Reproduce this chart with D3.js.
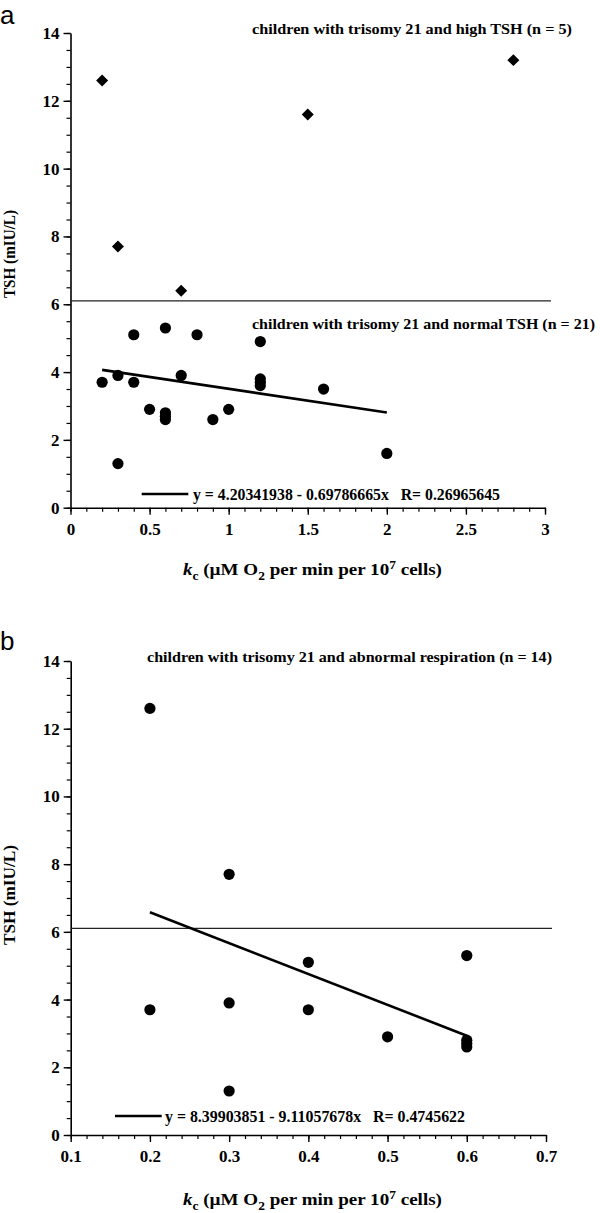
<!DOCTYPE html>
<html>
<head>
<meta charset="utf-8">
<script src="https://cdn.jsdelivr.net/npm/d3@7"></script>
<style>
  html, body { margin: 0; padding: 0; background: #fff; }
  svg { display: block; }
</style>
</head>
<body>
<svg id="chart" width="600" height="1213"></svg>
<script>
// ---------- DATA ----------
// Panel a: children with trisomy 21 and high TSH (diamonds)
const highTSH_x = [0.2, 0.3, 0.7, 1.5, 2.8];
const highTSH_y = [12.6, 7.7, 6.4, 11.6, 13.2];
// Panel a: children with trisomy 21 and normal TSH (circles)
const normalTSH_x = [0.2, 0.3, 0.3, 0.4, 0.4, 0.5, 0.6, 0.6, 0.6, 0.6, 0.7, 0.8, 0.9, 1.0, 1.2, 1.2, 1.2, 1.2, 1.6, 2.0];
const normalTSH_y = [3.7, 3.9, 1.3, 5.1, 3.7, 2.9, 5.3, 2.8, 2.7, 2.6, 3.9, 5.1, 2.6, 2.9, 4.9, 3.8, 3.7, 3.6, 3.5, 1.6];
// Panel b: children with trisomy 21 and abnormal respiration (circles)
const abnormal_x = [0.2, 0.2, 0.3, 0.3, 0.3, 0.4, 0.4, 0.5, 0.6, 0.6, 0.6, 0.6];
const abnormal_y = [12.6, 3.7, 7.7, 3.9, 1.3, 5.1, 3.7, 2.9, 5.3, 2.8, 2.7, 2.6];
// Regression lines: [intercept, slope], fitted x range
const fitA = [4.20341938, -0.69786665];
const fitA_range = [0.2, 2.0];
const fitB = [8.39903851, -9.11057678];
const fitB_range = [0.2, 0.6];
const thresholdTSH = 6.1;
// Axis ticks
const yTicks = [0, 2, 4, 6, 8, 10, 12, 14];
const yMinor = d3.range(0, 14.01, 0.5);
const xTicksA = [0, 0.5, 1, 1.5, 2, 2.5, 3];
const xTickLabelsA = ["0", "0.5", "1", "1.5", "2", "2.5", "3"];
const xMinorA = d3.range(0, 30.01, 1).map(d => d / 10);
const xTicksB = [0.1, 0.2, 0.3, 0.4, 0.5, 0.6, 0.7];
const xTickLabelsB = ["0.1", "0.2", "0.3", "0.4", "0.5", "0.6", "0.7"];
const xMinorB = d3.range(5, 35.01, 1).map(d => d / 50);
// Texts
const titleHigh = "children with trisomy 21 and high TSH (n = 5)";
const titleNormal = "children with trisomy 21 and normal TSH (n = 21)";
const titleAbn = "children with trisomy 21 and abnormal respiration (n = 14)";
const legendA = "y = 4.20341938 - 0.69786665x   R= 0.26965645";
const legendB = "y = 8.39903851 - 9.11057678x   R= 0.4745622";

// ---------- DRAW ----------
const svg = d3.select("#chart");
const serif = '"Liberation Serif", "Times New Roman", serif';

function styleLabels(s) {
  s.selectAll("text")
    .attr("font-family", serif).attr("font-weight", "bold")
    .attr("font-size", 17).attr("fill", "#000");
}

function drawPanel(o) {
  const g = svg.append("g");
  const x = d3.scaleLinear().domain(o.xDomain).range([o.left, o.right]);
  const y = d3.scaleLinear().domain([0, 14]).range([o.bottom, o.top]);

  // minor ticks
  g.append("g").attr("transform", `translate(${o.left},0)`)
    .call(d3.axisLeft(y).tickValues(yMinor).tickSize(4).tickFormat("").tickSizeOuter(0))
    .call(s => s.select(".domain").remove())
    .call(s => s.selectAll("line").attr("stroke-width", 1.2));
  g.append("g").attr("transform", `translate(0,${o.bottom})`)
    .call(d3.axisBottom(x).tickValues(o.xMinor).tickSize(4).tickFormat("").tickSizeOuter(0))
    .call(s => s.select(".domain").remove())
    .call(s => s.selectAll("line").attr("stroke-width", 1.2));

  // major axes
  g.append("g").attr("transform", `translate(${o.left},0)`)
    .call(d3.axisLeft(y).tickValues(yTicks).tickSize(7).tickPadding(4).tickSizeOuter(0).tickFormat(d3.format("d")))
    .call(s => s.select(".domain").attr("stroke-width", 1.6))
    .call(s => s.selectAll("line").attr("stroke-width", 1.4))
    .call(styleLabels);
  g.append("g").attr("transform", `translate(0,${o.bottom})`)
    .call(d3.axisBottom(x).tickValues(o.xTicks).tickSize(7).tickPadding(8).tickSizeOuter(0)
      .tickFormat((d, i) => o.xLabels[i]))
    .call(s => s.select(".domain").attr("stroke-width", 1.6))
    .call(s => s.selectAll("line").attr("stroke-width", 1.4))
    .call(styleLabels);

  // threshold line
  g.append("line")
    .attr("x1", x(o.xDomain[0])).attr("x2", o.right + 6)
    .attr("y1", y(thresholdTSH)).attr("y2", y(thresholdTSH))
    .attr("stroke", "#222").attr("stroke-width", 1.2);

  // regression line
  g.append("line")
    .attr("x1", x(o.fitRange[0])).attr("y1", y(o.fit[0] + o.fit[1] * o.fitRange[0]))
    .attr("x2", x(o.fitRange[1])).attr("y2", y(o.fit[0] + o.fit[1] * o.fitRange[1]))
    .attr("stroke", "#000").attr("stroke-width", 2.6);

  // circles
  g.selectAll("circle.pt").data(o.cx.map((d, i) => [d, o.cy[i]])).enter()
    .append("circle").attr("class", "pt")
    .attr("cx", d => x(d[0])).attr("cy", d => y(d[1])).attr("r", 5.6).attr("fill", "#000");

  // diamonds
  if (o.dx) {
    const sym = d3.symbol().type(d3.symbolSquare).size(72);
    g.selectAll("path.dm").data(o.dx.map((d, i) => [d, o.dy[i]])).enter()
      .append("path").attr("class", "dm")
      .attr("d", sym)
      .attr("transform", d => `translate(${x(d[0])},${y(d[1])}) rotate(45)`)
      .attr("fill", "#000");
  }

  // legend
  g.append("line").attr("x1", o.legX1).attr("x2", o.legX2).attr("y1", o.legY).attr("y2", o.legY)
    .attr("stroke", "#000").attr("stroke-width", 2.6);
  g.append("text").attr("x", o.legTx).attr("y", o.legY + 6)
    .attr("font-family", serif).attr("font-weight", "bold").attr("font-size", 16)
    .attr("textLength", o.legTw).attr("lengthAdjust", "spacingAndGlyphs")
    .attr("xml:space", "preserve")
    .text(o.legText);

  // y title
  g.append("text")
    .attr("transform", `translate(15,${o.yTitleC}) rotate(-90)`)
    .attr("text-anchor", "middle")
    .attr("font-family", serif).attr("font-weight", "bold").attr("font-size", 16)
    .attr("textLength", o.yTitleW).attr("lengthAdjust", "spacingAndGlyphs")
    .text("TSH (mIU/L)");

  // x title
  const xt = g.append("text").attr("x", 183).attr("y", o.xTitleY)
    .attr("font-family", serif).attr("font-weight", "bold").attr("font-size", 17)
    .attr("textLength", 259).attr("lengthAdjust", "spacingAndGlyphs");
  xt.append("tspan").attr("font-style", "italic").text("k");
  xt.append("tspan").attr("font-size", 12).attr("dy", 5).text("c");
  xt.append("tspan").attr("dy", -5).text(" (\u00b5M O");
  xt.append("tspan").attr("font-size", 12).attr("dy", 5).text("2");
  xt.append("tspan").attr("dy", -5).text(" per min per 10");
  xt.append("tspan").attr("font-size", 12).attr("dy", -6).text("7");
  xt.append("tspan").attr("dy", 6).text(" cells)");

  // panel letter
  g.append("text").attr("x", 0).attr("y", o.letterY)
    .attr("font-family", '"Liberation Sans", Arial, sans-serif').attr("font-size", 26)
    .text(o.letter);

  return { g, x, y };
}

const pa = drawPanel({
  xDomain: [0, 3], left: 70.5, right: 545, top: 33, bottom: 507.7,
  xTicks: xTicksA, xLabels: xTickLabelsA, xMinor: xMinorA,
  fit: fitA, fitRange: fitA_range,
  cx: normalTSH_x, cy: normalTSH_y, dx: highTSH_x, dy: highTSH_y,
  legX1: 141.7, legX2: 188.3, legY: 494, legTx: 193, legTw: 307, legText: legendA,
  yTitleC: 254, yTitleW: 88, xTitleY: 575, letter: "a", letterY: 24
});
pa.g.append("text").attr("x", 252).attr("y", 34)
  .attr("font-family", serif).attr("font-weight", "bold").attr("font-size", 14)
  .attr("textLength", 320).attr("lengthAdjust", "spacingAndGlyphs").text(titleHigh);
pa.g.append("text").attr("x", 252).attr("y", 329)
  .attr("font-family", serif).attr("font-weight", "bold").attr("font-size", 14)
  .attr("textLength", 343).attr("lengthAdjust", "spacingAndGlyphs").text(titleNormal);

const pb = drawPanel({
  xDomain: [0.1, 0.7], left: 70.7, right: 546, top: 661, bottom: 1135,
  xTicks: xTicksB, xLabels: xTickLabelsB, xMinor: xMinorB,
  fit: fitB, fitRange: fitB_range,
  cx: abnormal_x, cy: abnormal_y,
  legX1: 115, legX2: 161.7, legY: 1116, legTx: 165, legTw: 300, legText: legendB,
  yTitleC: 895, yTitleW: 100, xTitleY: 1205, letter: "b", letterY: 650
});
pb.g.append("text").attr("x", 147).attr("y", 662)
  .attr("font-family", serif).attr("font-weight", "bold").attr("font-size", 14)
  .attr("textLength", 405).attr("lengthAdjust", "spacingAndGlyphs").text(titleAbn);
</script>
</body>
</html>
